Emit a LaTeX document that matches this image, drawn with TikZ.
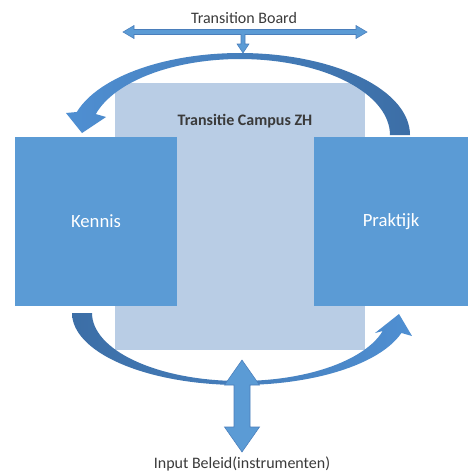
\documentclass[tikz,border=0pt]{standalone}
\usepackage{fontspec}
\setmainfont{Carlito}
\definecolor{campusfill}{HTML}{B9CDE5}
\definecolor{boxblue}{HTML}{5B9BD5}
\definecolor{arcLight}{HTML}{4F8FD2}
\definecolor{arcDark}{HTML}{3C6EA6}
\definecolor{boardedge}{HTML}{4A7EBB}
\definecolor{labelgrey}{HTML}{3A3A3A}
\begin{document}
\begin{tikzpicture}[x=0.75pt,y=-0.75pt]
\tikzset{
  campusbox/.style={fill=campusfill, draw=none, minimum width=187.5pt, minimum height=200.25pt, inner sep=0pt},
  sidebox/.style={fill=boxblue, draw=none, minimum height=126.75pt, inner sep=0pt, text=white, font=\fontsize{14}{16}\selectfont},
  lbl/.style={text=labelgrey, font=\fontsize{12}{14}\selectfont, inner sep=0pt},
  arrowfill/.style={fill=boxblue, draw=boardedge, line width=0.4pt}
}
\useasboundingbox (0,0) rectangle (468,472);
\fill[white] (0,0) rectangle (468,472);

% boxes
\node[campusbox] (campus) at (240,216.5) {};
\node[sidebox, minimum width=121.5pt] (kennis) at (96,221.5) {Kennis};
\node[sidebox, minimum width=115.5pt] (praktijk) at (391,221.5) {Praktijk};

% labels
\node[lbl] (board) at (244,18) {Transition Board};
\node[lbl, font=\fontsize{12}{14}\selectfont\bfseries] (campuslbl) at (245,121) {Transitie Campus ZH};
\node[lbl] (input) at (242,464) {Input Beleid(instrumenten)};

% top curved arrow (from Praktijk to Kennis)
\shade[left color=arcLight, right color=arcDark]
  plot[domain=0:163.7, samples=60] ({240+170*cos(\x)},{135-82*sin(\x)})
  -- (66,113) -- (82,133) -- (106,117)
  -- plot[domain=164:0, samples=60] ({240+150*cos(\x)},{135-76*sin(\x)}) -- cycle;

% bottom curved arrow (from Kennis to Praktijk)
\shade[left color=arcDark, right color=arcLight]
  plot[domain=180:16.1, samples=60] ({240+168*cos(\x)},{313+72*sin(\x)})
  -- (412,336) -- (399,314) -- (375,333)
  -- plot[domain=15.4:180, samples=60] ({240+148*cos(\x)},{313+68*sin(\x)}) -- cycle;

% transition board double arrow with down arrow
\coordinate (bl) at (123,32);
\coordinate (br) at (367,32);
\coordinate (bd) at (243,53);
\filldraw[arrowfill] (bl) -- (134,25.5) -- (134,29.5) -- (356,29.5) -- (356,25.5) -- (br)
  -- (356,38.5) -- (356,34.5) -- (245,34.5) -- (245,44) -- (249,44) -- (bd) -- (237,44)
  -- (241,44) -- (241,34.5) -- (134,34.5) -- (134,38.5) -- cycle;

% input vertical double arrow
\coordinate (vt) at (242,360);
\coordinate (vb) at (242,452);
\filldraw[arrowfill] (vt) -- (259.5,385) -- (250,385) -- (250,427) -- (259.5,427) -- (vb)
  -- (224.5,427) -- (234,427) -- (234,385) -- (224.5,385) -- cycle;
\end{tikzpicture}
\end{document}
